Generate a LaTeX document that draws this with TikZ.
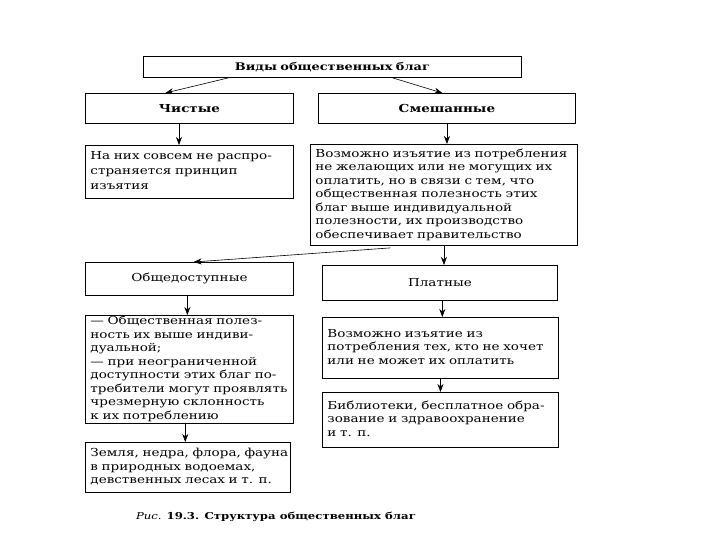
\documentclass[tikz,border=0pt]{standalone}
\usepackage{fontspec}
\setmainfont{DejaVu Serif}[FakeStretch=1.23]
\usetikzlibrary{calc,arrows.meta}
\newcommand{\boxlines}[1]{\begin{tabular}{@{}l@{}}#1\end{tabular}}
\tikzset{
  box/.style={draw, line width=0.9pt, anchor=north west, inner xsep=5pt, inner ysep=0pt,
    align=left, font=\fontsize{11}{13.5}\selectfont},
  headbox/.style={box, align=center},
  arr/.style={line width=0.6pt, -{Stealth[length=8pt,width=6pt]}}
}
\begin{document}
\begin{tikzpicture}[x=1pt,y=-1pt]
\useasboundingbox (0,0) rectangle (720,540);
\fill[white] (0,0) rectangle (720,540);

\node[headbox, text width=368pt, minimum height=21pt, font=\fontsize{10.5}{13.5}\selectfont\bfseries] (top) at (143,56) {Виды общественных благ};
\node[headbox, text width=198pt, minimum height=30pt, font=\fontsize{11}{13.5}\selectfont\bfseries] (pure) at (85,93) {Чистые};
\node[headbox, text width=247pt, minimum height=30pt, font=\fontsize{11}{13.5}\selectfont\bfseries] (mixed) at (318,93) {Смешанные};

\node[box, text width=198pt, minimum height=53pt, font=\fontsize{11}{15}\selectfont] (d1) at (85,145)
  {\boxlines{На них совсем не распро-\\страняется принцип\\изъятия}};
\node[box, text width=257pt, minimum height=101pt] (d2) at (310,144)
  {\boxlines{Возможно изъятие из потребления\\не желающих или не могущих их\\оплатить, но в связи с тем, что\\общественная полезность этих\\благ выше индивидуальной\\полезности, их производство\\обеспечивает правительство}};

\node[headbox, text width=198pt, minimum height=33pt] (free) at (85,262) {Общедоступные};
\node[headbox, text width=225pt, minimum height=35pt] (paid) at (322,265) {Платные};

\node[box, text width=198pt, minimum height=107pt] (d3) at (85,315)
  {\boxlines{— Общественная полез-\\ность их выше индиви-\\дуальной;\\— при неограниченной\\доступности этих благ по-\\требители могут проявлять\\чрезмерную склонность\\к их потреблению}};
\node[box, text width=226pt, minimum height=61pt] (d4) at (322,317)
  {\boxlines{Возможно изъятие из\\потребления тех, кто не хочет\\или не может их оплатить}};

\node[box, text width=195pt, minimum height=50pt] (d5) at (85,442)
  {\boxlines{Земля, недра, флора, фауна\\в природных водоемах,\\девственных лесах и т. п.}};
\node[box, text width=226pt, minimum height=55pt] (d6) at (322,392)
  {\boxlines{Библиотеки, бесплатное обра-\\зование и здравоохранение\\и т. п.}};

\node[font=\fontsize{9.5}{12}\selectfont] (cap) at (276,517) {\textit{Рис.} \textbf{19.3. Структура общественных благ}};

\coordinate (a1) at ($(pure.south west)!0.45!(pure.south east)$);
\coordinate (a2) at ($(mixed.south west)!0.50!(mixed.south east)$);
\coordinate (a3) at ($(d2.south west)!0.50!(d2.south east)$);
\coordinate (a4) at ($(free.south west)!0.49!(free.south east)$);
\coordinate (a5) at ($(paid.south west)!0.51!(paid.south east)$);
\coordinate (a6) at ($(d3.south west)!0.48!(d3.south east)$);
\coordinate (a7) at ($(d4.south west)!0.50!(d4.south east)$);

\draw[arr] ($(top.south west)!0.225!(top.south east)$) -- ($(pure.north west)!0.385!(pure.north east)$);
\draw[arr] ($(top.south west)!0.659!(top.south east)$) -- ($(mixed.north west)!0.482!(mixed.north east)$);
\draw[arr] (a1) -- (a1 |- d1.north);
\draw[arr] (a2) -- (a2 |- d2.north);
\draw[arr] ($(d2.south west)!0.30!(d2.south east)+(0,2)$) -- ($(free.north west)!0.52!(free.north east)$);
\draw[arr] (a3) -- (a3 |- paid.north);
\draw[arr] (a4) -- (a4 |- d3.north);
\draw[arr] (a5) -- (a5 |- d4.north);
\draw[arr] (a6) -- (a6 |- d5.north);
\draw[arr] (a7) -- (a7 |- d6.north);
\end{tikzpicture}
\end{document}
